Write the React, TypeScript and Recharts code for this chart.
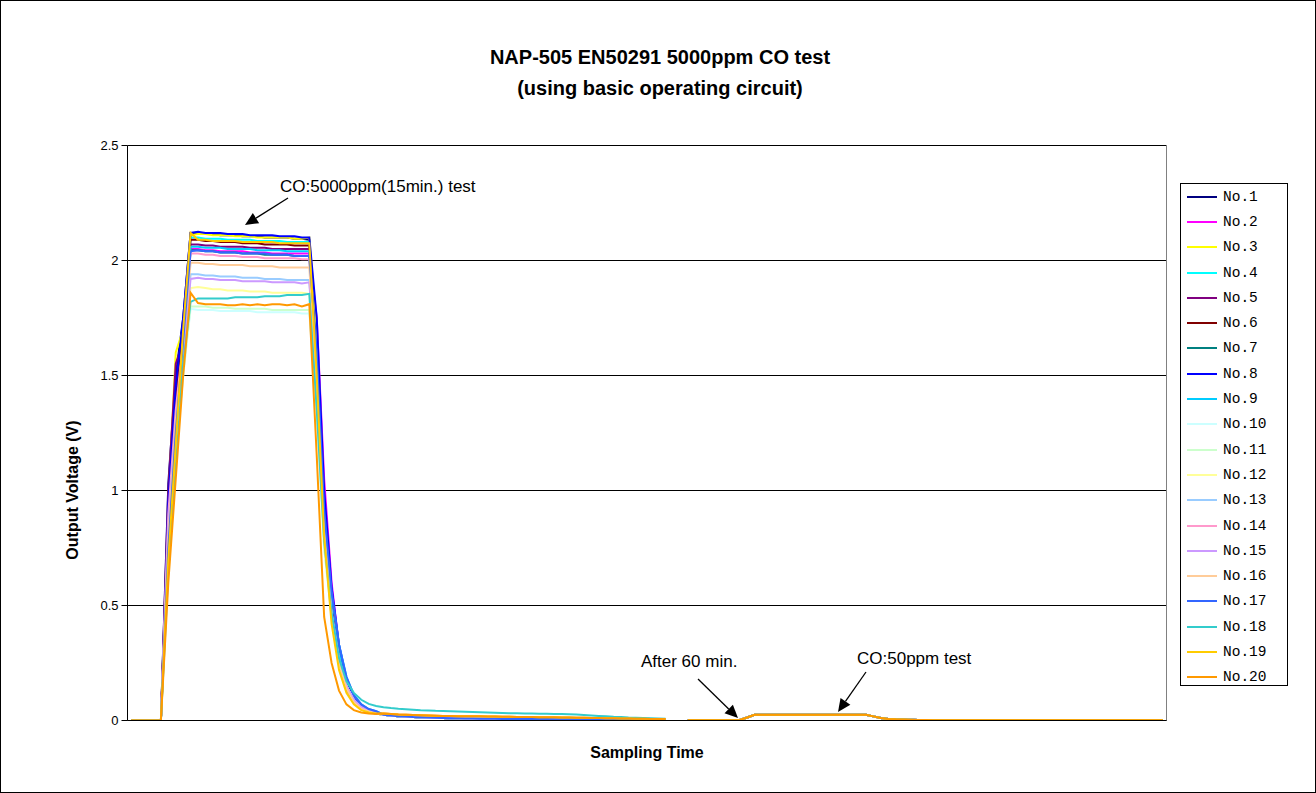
import React from 'react';
import { LineChart, Line, XAxis, YAxis, CartesianGrid, ReferenceLine, Legend } from 'recharts';

const seriesNames = ['No.1','No.2','No.3','No.4','No.5','No.6','No.7','No.8','No.9','No.10','No.11','No.12','No.13','No.14','No.15','No.16','No.17','No.18','No.19','No.20'];
const seriesColors = ['#000080','#FF00FF','#FFFF00','#00FFFF','#800080','#800000','#008080','#0000FF','#00CCFF','#CCFFFF','#CCFFCC','#FFFF99','#99CCFF','#FF99CC','#CC99FF','#FFCC99','#3366FF','#33CCCC','#FFCC00','#FF9900'];

// samples 0..4 : before gas
const leadValues = [0, 0, 0, 0, 0];

// samples 5..7 : rise
const riseValues = [
  [1.03, 1.5, 1.75],
  [0.85, 1.3, 1.65],
  [0.95, 1.6, 1.7],
  [0.8, 1.25, 1.65],
  [1.0, 1.55, 1.65],
  [0.9, 1.4, 1.7],
  [0.8, 1.25, 1.6],
  [0.95, 1.45, 1.75],
  [0.75, 1.2, 1.6],
  [0.7, 1.15, 1.5],
  [0.7, 1.15, 1.5],
  [0.8, 1.3, 1.6],
  [0.8, 1.3, 1.6],
  [0.9, 1.35, 1.65],
  [0.85, 1.3, 1.6],
  [0.8, 1.3, 1.65],
  [0.75, 1.25, 1.65],
  [0.65, 1.1, 1.55],
  [0.7, 1.2, 1.7],
  [0.6, 1.05, 1.5],
];

// samples 8..24 : 5000ppm plateau
const plateauValues = [
  [2.12,2.12,2.115,2.115,2.11,2.11,2.11,2.105,2.105,2.105,2.1,2.1,2.1,2.1,2.095,2.095,2.09],
  [2.05,2.05,2.045,2.045,2.04,2.04,2.04,2.04,2.035,2.035,2.035,2.03,2.03,2.03,2.03,2.03,2.03],
  [2.11,2.115,2.115,2.11,2.11,2.11,2.105,2.105,2.105,2.1,2.1,2.1,2.1,2.1,2.095,2.095,2.1],
  [2.1,2.1,2.095,2.095,2.095,2.09,2.09,2.09,2.09,2.085,2.085,2.085,2.085,2.08,2.08,2.08,2.08],
  [2.07,2.07,2.065,2.065,2.06,2.06,2.06,2.06,2.055,2.055,2.055,2.05,2.05,2.05,2.05,2.05,2.05],
  [2.09,2.09,2.085,2.085,2.08,2.08,2.08,2.075,2.075,2.075,2.07,2.07,2.07,2.07,2.065,2.065,2.065],
  [2.045,2.045,2.04,2.04,2.035,2.035,2.035,2.03,2.03,2.03,2.025,2.025,2.025,2.025,2.02,2.02,2.02],
  [2.12,2.125,2.12,2.12,2.12,2.115,2.115,2.115,2.11,2.11,2.11,2.11,2.105,2.105,2.105,2.1,2.1],
  [2.06,2.06,2.055,2.055,2.055,2.05,2.05,2.05,2.05,2.045,2.045,2.045,2.045,2.04,2.04,2.04,2.04],
  [1.79,1.785,1.785,1.785,1.78,1.78,1.78,1.78,1.78,1.775,1.775,1.775,1.775,1.775,1.775,1.77,1.77],
  [1.8,1.8,1.8,1.795,1.795,1.795,1.79,1.79,1.79,1.79,1.79,1.785,1.785,1.785,1.785,1.785,1.785],
  [1.88,1.885,1.88,1.875,1.875,1.87,1.87,1.87,1.865,1.865,1.865,1.86,1.86,1.86,1.86,1.86,1.855],
  [1.94,1.94,1.935,1.935,1.93,1.93,1.93,1.925,1.925,1.925,1.92,1.92,1.92,1.915,1.915,1.915,1.915],
  [2.03,2.03,2.025,2.025,2.02,2.02,2.02,2.015,2.015,2.015,2.01,2.01,2.01,2.01,2.01,2.005,2.005],
  [1.92,1.925,1.92,1.92,1.915,1.915,1.915,1.91,1.91,1.91,1.91,1.905,1.905,1.905,1.905,1.9,1.905],
  [1.99,1.99,1.985,1.985,1.98,1.98,1.98,1.98,1.975,1.975,1.975,1.975,1.97,1.97,1.97,1.97,1.97],
  [2.04,2.045,2.04,2.04,2.035,2.035,2.035,2.03,2.03,2.03,2.03,2.025,2.025,2.025,2.02,2.02,2.02],
  [1.82,1.835,1.835,1.835,1.835,1.835,1.84,1.84,1.84,1.84,1.845,1.845,1.845,1.85,1.85,1.85,1.855],
  [2.12,2.09,2.09,2.085,2.085,2.085,2.085,2.08,2.08,2.08,2.08,2.08,2.075,2.075,2.075,2.075,2.075],
  [1.86,1.815,1.81,1.81,1.81,1.805,1.805,1.81,1.805,1.81,1.805,1.81,1.81,1.805,1.81,1.8,1.81],
];

// samples 25..33 : decay after gas off
const fallValues = [
  [1.6,0.95,0.55,0.3,0.16,0.09,0.06,0.045,0.035],
  [1.75,1.05,0.6,0.32,0.17,0.1,0.06,0.045,0.035],
  [1.7,0.95,0.52,0.28,0.15,0.09,0.055,0.04,0.03],
  [1.45,0.8,0.5,0.3,0.18,0.1,0.065,0.045,0.035],
  [1.55,0.9,0.5,0.27,0.15,0.085,0.055,0.04,0.03],
  [1.5,0.85,0.48,0.26,0.14,0.08,0.05,0.04,0.03],
  [1.4,0.78,0.46,0.27,0.15,0.09,0.06,0.045,0.035],
  [1.75,1.0,0.58,0.33,0.18,0.1,0.065,0.045,0.035],
  [1.45,0.85,0.55,0.33,0.19,0.11,0.07,0.05,0.04],
  [1.35,0.75,0.45,0.26,0.15,0.09,0.055,0.04,0.03],
  [1.35,0.75,0.45,0.26,0.15,0.085,0.055,0.04,0.03],
  [1.4,0.8,0.46,0.26,0.15,0.085,0.055,0.04,0.03],
  [1.45,0.82,0.47,0.27,0.15,0.09,0.055,0.04,0.03],
  [1.45,0.82,0.46,0.26,0.15,0.085,0.055,0.04,0.03],
  [1.45,0.82,0.47,0.27,0.15,0.09,0.06,0.045,0.035],
  [1.45,0.8,0.45,0.25,0.14,0.08,0.05,0.04,0.03],
  [1.6,0.92,0.56,0.33,0.19,0.11,0.07,0.05,0.04],
  [1.35,0.78,0.47,0.27,0.17,0.12,0.09,0.072,0.063],
  [1.5,0.8,0.42,0.22,0.12,0.07,0.045,0.035,0.03],
  [1.15,0.45,0.25,0.13,0.07,0.045,0.035,0.03,0.028],
];

// samples 34..72 : slow recovery tails
const tailHigh = [0.058,0.054,0.051,0.049,0.047,0.045,0.044,0.042,0.041,0.04,0.039,0.038,0.037,0.036,0.035,0.034,0.033,0.032,0.031,0.03,0.03,0.029,0.029,0.028,0.028,0.027,0.026,0.024,0.022,0.02,0.018,0.016,0.015,0.013,0.012,0.011,0.01,0.009,0.008];
const tailMid = [0.03,0.028,0.026,0.025,0.024,0.023,0.022,0.021,0.02,0.02,0.019,0.019,0.018,0.018,0.017,0.017,0.016,0.016,0.015,0.015,0.015,0.014,0.014,0.014,0.013,0.013,0.012,0.012,0.011,0.011,0.01,0.01,0.009,0.009,0.008,0.008,0.007,0.007,0.006];
const tailLow = [0.025,0.022,0.019,0.017,0.015,0.014,0.013,0.012,0.011,0.01,0.01,0.009,0.009,0.008,0.008,0.008,0.007,0.007,0.007,0.006,0.006,0.006,0.006,0.005,0.005,0.005,0.005,0.005,0.004,0.004,0.004,0.004,0.004,0.004,0.003,0.003,0.003,0.003,0.003];
const tailChoice = ['low','low','low','low','low','low','low','low','low','low','low','low','low','mid','low','mid','low','high','mid','mid'];

// samples 73..74 : missing
const gapValues = [null, null];

// samples 75..139 : after 60 min, 50ppm test
const lateValues = [
  0.001,0.001,0.001,0.001,0.001,0.001,0.001,
  0.002,0.013,
  0.025,0.025,0.025,0.025,0.025,0.025,0.025,0.025,0.025,0.025,0.025,0.025,0.025,0.025,0.025,0.025,
  0.018,0.011,0.007,0.005,0.004,0.003,0.002,0.002,
  0.001,0.001,0.001,0.001,0.001,0.001,0.001,0.001,0.001,0.001,0.001,0.001,0.001,0.001,0.001,0.001,
  0.001,0.001,0.001,0.001,0.001,0.001,0.001,0.001,0.001,0.001,0.001,0.001,0.001,0.001,0.001,0.001,
];

const yTicks = [0, 0.5, 1, 1.5, 2, 2.5];

const tails: Record<string, number[]> = { high: tailHigh, mid: tailMid, low: tailLow };

const seriesData = seriesNames.map((_, i) => [
  ...leadValues,
  ...riseValues[i],
  ...plateauValues[i],
  ...fallValues[i],
  ...tails[tailChoice[i]],
  ...gapValues,
  ...lateValues,
]);

const chartData = seriesData[0].map((_, k) => {
  const row: Record<string, number | null> = { k };
  seriesNames.forEach((_, i) => {
    row['s' + i] = seriesData[i][k];
  });
  return row;
});

const FONT = '"Liberation Sans", Arial, sans-serif';

function LegendBox() {
  return (
    <div
      style={{
        width: 108,
        height: 503,
        boxSizing: 'border-box',
        border: '1px solid #000',
        background: '#fff',
        paddingTop: 0,
      }}
    >
      {seriesNames.map((name, i) => (
        <div key={name} style={{ height: 25.3, display: 'flex', alignItems: 'center' }}>
          <svg width={42} height={10} style={{ display: 'block' }}>
            <line x1={6} y1={5} x2={36} y2={5} stroke={seriesColors[i]} strokeWidth={2} />
          </svg>
          <span style={{ fontFamily: '"Liberation Mono", "Courier New", monospace', fontSize: 14.5, color: '#000', lineHeight: '16px' }}>
            {name}
          </span>
        </div>
      ))}
    </div>
  );
}

function Arrow({ x1, y1, x2, y2 }: { x1: number; y1: number; x2: number; y2: number }) {
  const dx = x2 - x1;
  const dy = y2 - y1;
  const len = Math.sqrt(dx * dx + dy * dy);
  const ux = dx / len;
  const uy = dy / len;
  const hl = 13;
  const hw = 6;
  const bx = x2 - ux * hl;
  const by = y2 - uy * hl;
  const p1 = `${x2},${y2}`;
  const p2 = `${bx - uy * hw},${by + ux * hw}`;
  const p3 = `${bx + uy * hw},${by - ux * hw}`;
  return (
    <g>
      <line x1={x1} y1={y1} x2={bx} y2={by} stroke="#000" strokeWidth={1.3} />
      <polygon points={`${p1} ${p2} ${p3}`} fill="#000" />
    </g>
  );
}

export default function App() {
  return (
    <div
      style={{
        position: 'absolute',
        left: 0,
        top: 0,
        width: 1316,
        height: 793,
        background: '#fff',
        boxSizing: 'border-box',
        border: '1px solid #000',
      }}
    >
      <div style={{ position: 'absolute', left: -1, top: -1 }}>
        <LineChart
          width={1316}
          height={793}
          data={chartData}
          margin={{ top: 145.5, right: 149.5, bottom: 52.5, left: 67.5 }}
        >
          <CartesianGrid vertical={false} stroke="#000" strokeWidth={1} />
          <XAxis
            type="number"
            dataKey="k"
            domain={[-0.5, 139.5]}
            tick={false}
            tickLine={false}
            axisLine={{ stroke: '#000', strokeWidth: 1 }}
            height={20}
            allowDataOverflow
          />
          <YAxis
            type="number"
            domain={[0, 2.5]}
            ticks={yTicks}
            width={60}
            tickSize={6}
            tickMargin={3}
            axisLine={{ stroke: '#000', strokeWidth: 1 }}
            tickLine={{ stroke: '#000' }}
            tick={{ fill: '#000', fontSize: 13, fontFamily: FONT }}
            allowDataOverflow
          />
          <ReferenceLine x={139.5} stroke="#808080" strokeWidth={1} />
          {seriesNames.map((name, i) => (
            <Line
              key={name}
              type="linear"
              dataKey={'s' + i}
              name={name}
              stroke={seriesColors[i]}
              strokeWidth={2}
              dot={false}
              activeDot={false}
              connectNulls={false}
              isAnimationActive={false}
            />
          ))}
          <Legend
            layout="vertical"
            align="center"
            verticalAlign="middle"
            wrapperStyle={{ left: 1180, top: 183, width: 108, height: 503 }}
            content={() => <LegendBox />}
          />
        </LineChart>
      </div>
      <svg
        width={1316}
        height={793}
        style={{ position: 'absolute', left: -1, top: -1, pointerEvents: 'none' }}
      >
        <text x={660} y={64} textAnchor="middle" fontFamily={FONT} fontWeight="bold" fontSize={20} fill="#000">
          NAP-505 EN50291 5000ppm CO test
        </text>
        <text x={660} y={95} textAnchor="middle" fontFamily={FONT} fontWeight="bold" fontSize={20} fill="#000">
          (using basic operating circuit)
        </text>
        <text x={647} y={758} textAnchor="middle" fontFamily={FONT} fontWeight="bold" fontSize={16} fill="#000">
          Sampling Time
        </text>
        <text
          x={0}
          y={0}
          transform="translate(78,490) rotate(-90)"
          textAnchor="middle"
          fontFamily={FONT}
          fontWeight="bold"
          fontSize={16}
          fill="#000"
        >
          Output Voltage (V)
        </text>
        <text x={280} y={192} fontFamily={FONT} fontSize={17} fill="#000">
          CO:5000ppm(15min.) test
        </text>
        <Arrow x1={288} y1={198} x2={245} y2={225} />
        <text x={641} y={667} fontFamily={FONT} fontSize={17} fill="#000">
          After 60 min.
        </text>
        <Arrow x1={698} y1={679} x2={738} y2={718} />
        <text x={857} y={664} fontFamily={FONT} fontSize={17} fill="#000">
          CO:50ppm test
        </text>
        <Arrow x1={866} y1={672} x2={838} y2={712} />
      </svg>
    </div>
  );
}
